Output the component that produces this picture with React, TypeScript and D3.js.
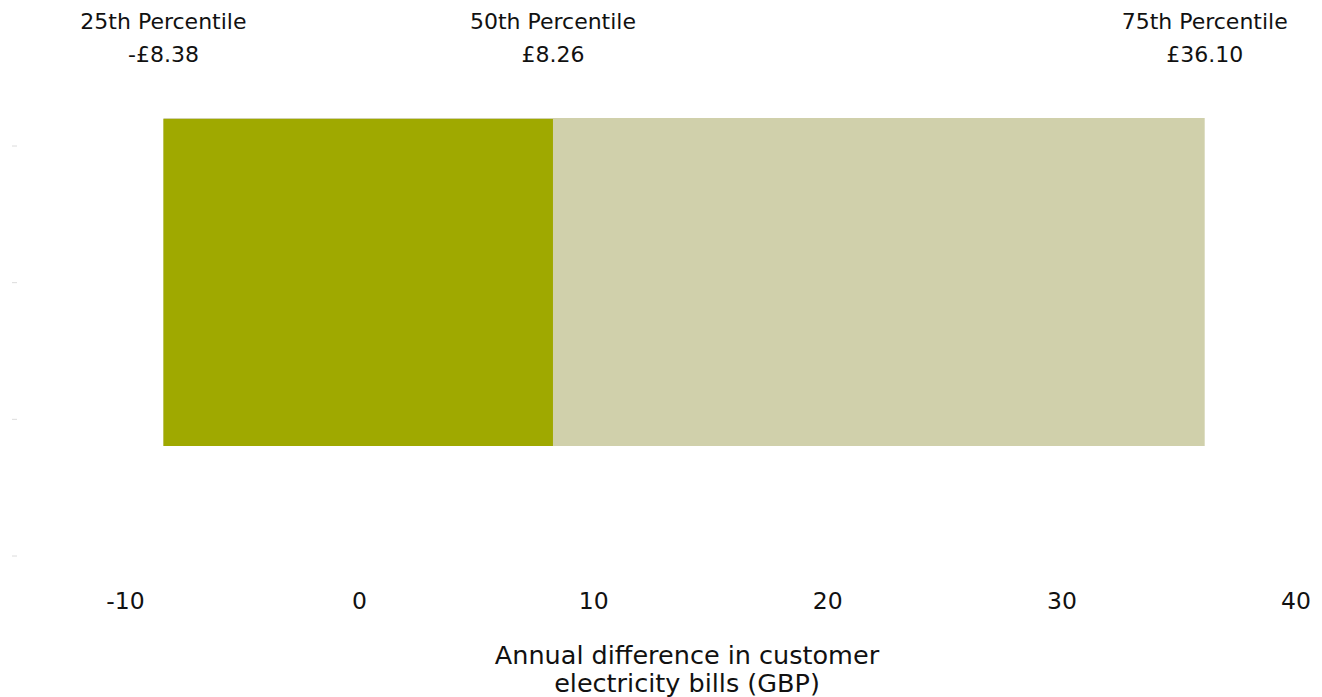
import React from "react";
import * as d3 from "d3";

const percentileLabels = ["25th Percentile", "50th Percentile", "75th Percentile"];
const percentileValues = [-8.38, 8.26, 36.1];
const valueLabels = ["-£8.38", "£8.26", "£36.10"];
const xTicks = [-10, 0, 10, 20, 30, 40];
const yTicks = [0, 1, 2, 3];
const axisTitle = ["Annual difference in customer", "electricity bills (GBP)"];

const W = 1322;
const H = 697;
const FONT = "'DejaVu Sans', sans-serif";

export default function App() {
  const x = d3.scaleLinear().domain([-10, 40]).range([125.5, 1296]);
  const y = d3.scaleLinear().domain([0, 3]).range([146, 556]);
  const barTop = 118;
  const barBottom = 446;
  const [p25, p50, p75] = percentileValues;
  return (
    <svg
      width={W}
      height={H}
      style={{ position: "absolute", left: 0, top: 0, display: "block", background: "#fff" }}
      fontFamily={FONT}
    >
      {yTicks.map((t) => (
        <line key={t} x1={12} x2={17} y1={y(t)} y2={y(t)} stroke="#dcdcdc" strokeWidth={1} />
      ))}
      <rect x={x(p25)} y={barTop} width={x(p75) - x(p25)} height={barBottom - barTop} fill="#D0D0AB" />
      <rect x={x(p25)} y={barTop + 1} width={x(p50) - x(p25)} height={barBottom - barTop - 1} fill="#9FA900" />
      {percentileValues.map((v, i) => (
        <g key={i}>
          <text x={x(v)} y={29} textAnchor="middle" fontSize={22} fill="#111">
            {percentileLabels[i]}
          </text>
          <text x={x(v)} y={62} textAnchor="middle" fontSize={22} fill="#111">
            {valueLabels[i]}
          </text>
        </g>
      ))}
      {xTicks.map((t) => (
        <text key={t} x={x(t)} y={609} textAnchor="middle" fontSize={23.5} fill="#111">
          {t}
        </text>
      ))}
      {axisTitle.map((s, i) => (
        <text key={i} x={687} y={664 + i * 28} textAnchor="middle" fontSize={25.5} fill="#111">
          {s}
        </text>
      ))}
    </svg>
  );
}
